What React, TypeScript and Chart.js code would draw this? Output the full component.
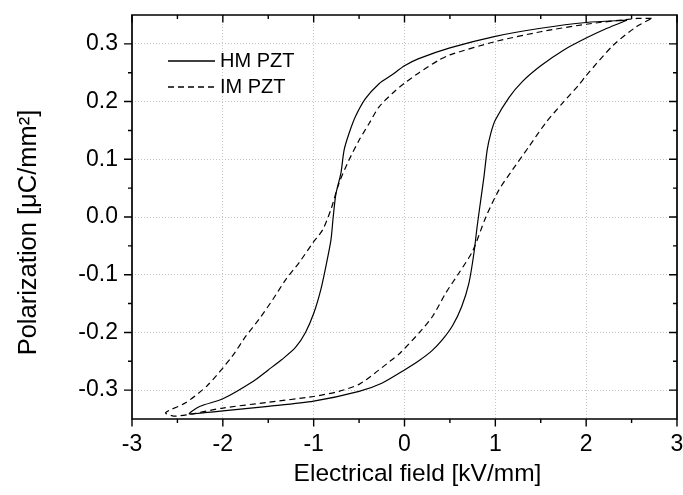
import React, { useEffect, useRef } from "react";
import { Chart, registerables } from "chart.js";

Chart.register(...registerables);

const FONT = "'Liberation Sans', Arial, Helvetica, sans-serif";

const seriesLabels = ["HM PZT", "IM PZT"];

// HM PZT (solid): upper branch (field decreasing) then lower branch (field increasing)
const hmField = [
  2.45, 2.0, 1.5, 1.0, 0.5, 0.15, 0.0, -0.14, -0.28, -0.43, -0.54, -0.61, -0.665, -0.7, -0.755,
  -0.785, -0.81, -0.865, -0.92, -0.995, -1.09, -1.2, -1.35, -1.5, -1.66, -2.0, -2.25, -2.37,
  -2.2, -2.0, -1.5, -1.0, -0.5, -0.25, 0.0, 0.15, 0.3, 0.42, 0.53, 0.63, 0.71, 0.765, 0.8, 0.84,
  0.875, 0.91, 0.95, 1.0, 1.15, 1.3, 1.5, 1.75, 2.0, 2.23, 2.45,
];
const hmPolarization = [
  0.341, 0.337, 0.327, 0.313, 0.293, 0.274, 0.262, 0.246, 0.231, 0.205, 0.174, 0.145, 0.116, 0.076,
  0.04, 0.0, -0.04, -0.085, -0.125, -0.165, -0.2, -0.226, -0.247, -0.265, -0.284, -0.315, -0.328,
  -0.341, -0.339, -0.336, -0.328, -0.319, -0.302, -0.288, -0.265, -0.25, -0.232, -0.212, -0.188,
  -0.155, -0.114, -0.062, -0.016, 0.03, 0.07, 0.116, 0.145, 0.168, 0.207, 0.235, 0.262, 0.289, 0.31,
  0.327, 0.341,
];

// IM PZT (dashed)
const imField = [
  2.72, 2.56, 2.0, 1.5, 1.0, 0.5, 0.38, 0.16, 0.0, -0.135, -0.28, -0.39, -0.5, -0.61, -0.72, -0.81,
  -0.9, -1.01, -1.16, -1.305, -1.45, -1.6, -1.745, -1.9, -2.17, -2.41, -2.63, -2.54, -2.37, -2.0,
  -1.5, -1.0, -0.72, -0.5, -0.33, -0.16, -0.05, 0.165, 0.31, 0.457, 0.6, 0.75, 0.896, 1.04, 1.19,
  1.37, 1.554, 1.737, 1.92, 2.0, 2.3, 2.556, 2.72,
];
const imPolarization = [
  0.344, 0.344, 0.334, 0.321, 0.304, 0.281, 0.272, 0.25, 0.232, 0.214, 0.191, 0.162, 0.133, 0.099,
  0.059, 0.013, -0.022, -0.045, -0.079, -0.108, -0.143, -0.177, -0.206, -0.242, -0.292, -0.322,
  -0.339, -0.345, -0.342, -0.331, -0.321, -0.311, -0.302, -0.29, -0.271, -0.25, -0.236, -0.2,
  -0.172, -0.131, -0.097, -0.059, 0.0, 0.047, 0.082, 0.122, 0.163, 0.197, 0.229, 0.245, 0.298, 0.33,
  0.344,
];

const xMajorTicks = [-3, -2, -1, 0, 1, 2, 3];
const xMinorTicks = [-2.5, -1.5, -0.5, 0.5, 1.5, 2.5];
const yMajorTicks = [-0.3, -0.2, -0.1, 0, 0.1, 0.2, 0.3];
const yMinorTicks = [-0.25, -0.15, -0.05, 0.05, 0.15, 0.25];

const xAxisTitle = "Electrical field [kV/mm]";
const yAxisTitle = "Polarization [μC/mm²]";

const frameTicksPlugin = {
  id: "frameTicks",
  afterDatasetsDraw(chart: any) {
    const { ctx, chartArea } = chart;
    const { left, right, top, bottom } = chartArea;
    const xs = chart.scales.x;
    const ys = chart.scales.y;
    ctx.save();
    ctx.strokeStyle = "#000";
    ctx.lineWidth = 1.7;
    ctx.beginPath();
    ctx.rect(left, top, right - left, bottom - top);
    ctx.stroke();
    ctx.lineWidth = 1.4;
    ctx.beginPath();
    const xt = (vals: number[], lenOut: number, lenIn: number) => {
      vals.forEach((v) => {
        const p = xs.getPixelForValue(v);
        ctx.moveTo(p, bottom);
        ctx.lineTo(p, bottom + lenOut);
        ctx.moveTo(p, top);
        ctx.lineTo(p, top + lenIn);
      });
    };
    const yt = (vals: number[], lenOut: number, lenIn: number) => {
      vals.forEach((v) => {
        const p = ys.getPixelForValue(v);
        ctx.moveTo(left, p);
        ctx.lineTo(left - lenOut, p);
        ctx.moveTo(right, p);
        ctx.lineTo(right - lenIn, p);
      });
    };
    xt(xMajorTicks, 7.5, 7.5);
    xt(xMinorTicks, 4, 4);
    yt(yMajorTicks, 8, 8);
    yt(yMinorTicks, 4, 4);
    ctx.stroke();
    ctx.restore();
  },
};

const legendPlugin = {
  id: "insideLegend",
  afterDatasetsDraw(chart: any) {
    const { ctx, chartArea } = chart;
    const { left, top } = chartArea;
    ctx.save();
    chart.data.datasets.forEach((ds: any, i: number) => {
      const y = top + 46 + i * 26;
      ctx.strokeStyle = ds.borderColor;
      ctx.lineWidth = 1.3;
      ctx.setLineDash(ds.borderDash || []);
      ctx.beginPath();
      ctx.moveTo(left + 36, y);
      ctx.lineTo(left + 83, y);
      ctx.stroke();
      ctx.setLineDash([]);
      ctx.fillStyle = "#000";
      ctx.font = `20px ${FONT}`;
      ctx.textAlign = "left";
      ctx.textBaseline = "middle";
      ctx.fillText(ds.label, left + 88, y + 0.5);
    });
    ctx.restore();
  },
};

const axisTitlesPlugin = {
  id: "axisTitles",
  afterDraw(chart: any) {
    const { ctx, chartArea } = chart;
    const ys = chart.scales.y;
    const xs = chart.scales.x;
    ctx.save();
    ctx.fillStyle = "#000";
    ctx.textAlign = "center";
    ctx.textBaseline = "middle";
    // x title
    ctx.font = `24.5px ${FONT}`;
    ctx.fillText(xAxisTitle, (chartArea.left + chartArea.right) / 2 + 13, xs.bottom - 21);
    // y title
    ctx.translate(ys.left + 28.7, (chartArea.top + chartArea.bottom) / 2 + 15.5);
    ctx.rotate(-Math.PI / 2);
    ctx.font = `25.5px ${FONT}`;
    ctx.fillText(yAxisTitle, 0, 0);
    ctx.restore();
  },
};

export default function App() {
  const canvasRef = useRef<HTMLCanvasElement | null>(null);

  useEffect(() => {
    if (!canvasRef.current) return;
    const gridColor = (ctx: any) =>
      ctx.tick && (ctx.tick.value === -3 || ctx.tick.value === 3) ? "rgba(0,0,0,0)" : "#c4c4c4";
    const chart = new Chart(canvasRef.current, {
      type: "scatter",
      data: {
        datasets: [
          {
            label: seriesLabels[0],
            data: hmField.map((x, i) => ({ x, y: hmPolarization[i] })),
            showLine: true,
            borderColor: "#000",
            backgroundColor: "#000",
            borderWidth: 1.2,
            pointRadius: 0,
            pointHoverRadius: 0,
            tension: 0.25,
            fill: false,
          },
          {
            label: seriesLabels[1],
            data: imField.map((x, i) => ({ x, y: imPolarization[i] })),
            showLine: true,
            borderColor: "#000",
            backgroundColor: "#000",
            borderWidth: 1.2,
            borderDash: [6, 4],
            pointRadius: 0,
            pointHoverRadius: 0,
            tension: 0.25,
            fill: false,
          },
        ],
      },
      options: {
        animation: false,
        responsive: true,
        maintainAspectRatio: false,
        layout: { padding: { top: 15, left: 0, right: 0, bottom: 0 } },
        plugins: {
          legend: { display: false },
          tooltip: { enabled: false },
        },
        scales: {
          x: {
            type: "linear",
            min: -3,
            max: 3,
            afterBuildTicks: (s: any) => {
              s.ticks = xMajorTicks.map((value) => ({ value }));
            },
            afterFit: (s: any) => {
              s.height = 76;
              s.paddingLeft = 0;
              s.paddingRight = 6;
            },
            grid: { drawTicks: false, color: gridColor, lineWidth: 1 },
            border: { display: false, dash: [1, 2] },
            ticks: {
              padding: 11.6,
              color: "#000",
              autoSkip: false,
              maxRotation: 0,
              font: { family: FONT, size: 23 },
              callback: (v: any) => String(v),
            },
            title: { display: false },
          },
          y: {
            type: "linear",
            min: -0.35,
            max: 0.35,
            afterBuildTicks: (s: any) => {
              s.ticks = yMajorTicks.map((value) => ({ value }));
            },
            afterFit: (s: any) => {
              s.width = 132;
              s.paddingTop = 0;
              s.paddingBottom = 0;
            },
            grid: { drawTicks: false, color: "#c4c4c4", lineWidth: 1 },
            border: { display: false, dash: [1, 2] },
            ticks: {
              padding: 14,
              color: "#000",
              autoSkip: false,
              font: { family: FONT, size: 23 },
              callback: (v: any) => Number(v).toFixed(1),
            },
            title: { display: false },
          },
        },
      },
      plugins: [frameTicksPlugin, legendPlugin, axisTitlesPlugin],
    } as any);
    return () => chart.destroy();
  }, []);

  return (
    <div
      style={{
        position: "fixed",
        left: 0,
        top: 0,
        width: 683,
        height: 495,
        background: "#fff",
      }}
    >
      <canvas ref={canvasRef} />
    </div>
  );
}
